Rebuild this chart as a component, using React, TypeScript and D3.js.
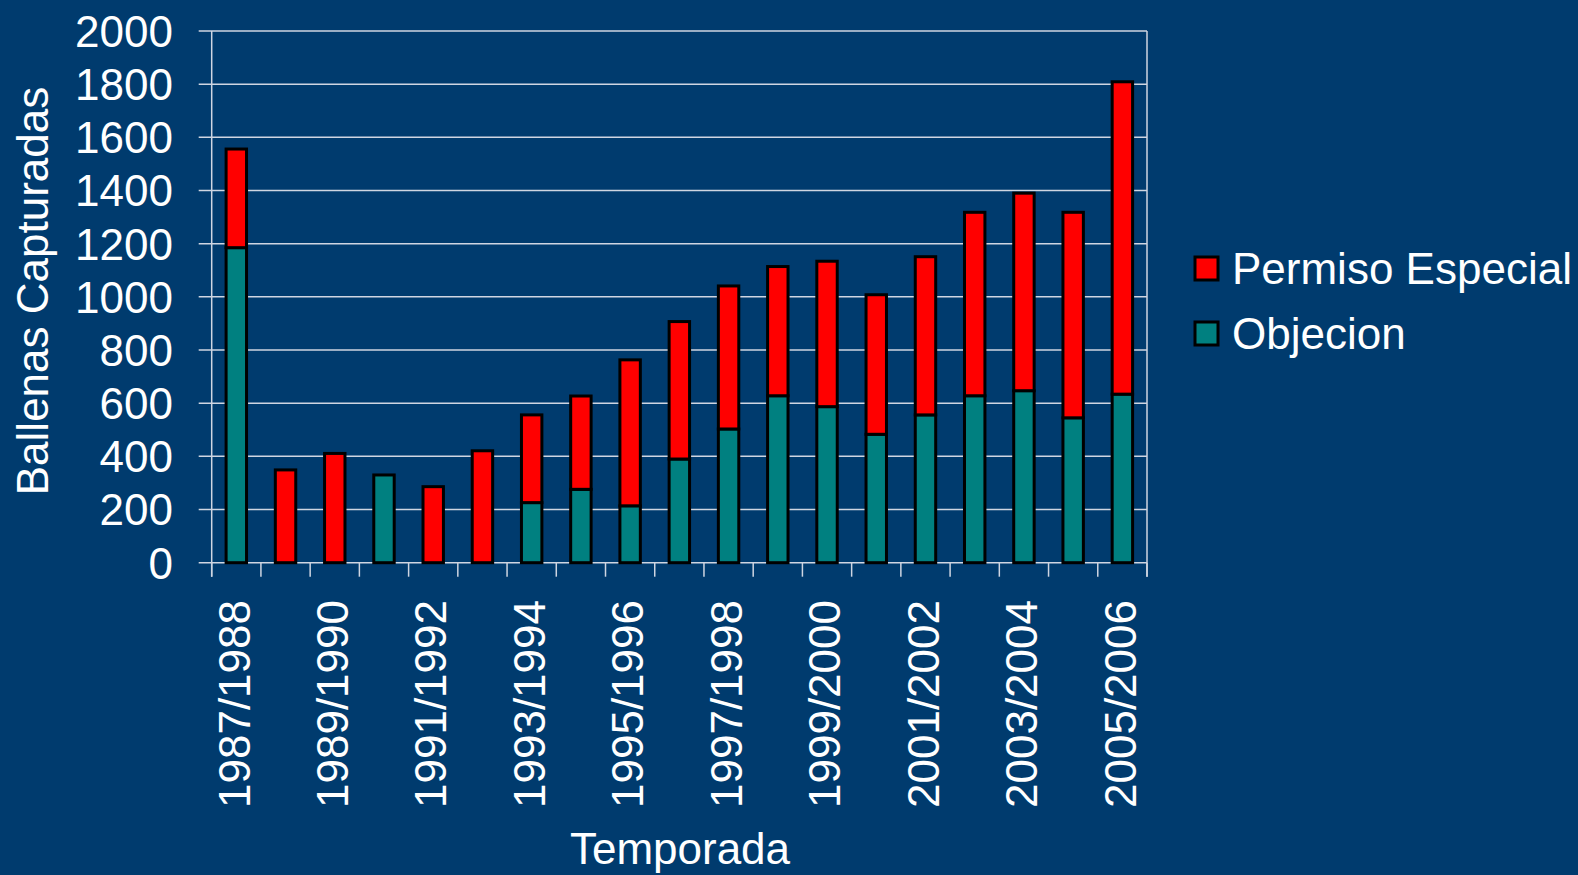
import React from "react";
import * as d3 from "d3";

const seasons = [
  "1987/1988", "1988/1989", "1989/1990", "1990/1991", "1991/1992", "1992/1993",
  "1993/1994", "1994/1995", "1995/1996", "1996/1997", "1997/1998", "1998/1999",
  "1999/2000", "2000/2001", "2001/2002", "2002/2003", "2003/2004", "2004/2005",
  "2005/2006",
];
const objecion = [1185, 0, 0, 330, 0, 0, 226, 276, 214, 390, 503, 628, 587, 483, 556, 628, 647, 545, 634];
const permisoEspecial = [371, 349, 411, 0, 286, 421, 330, 351, 549, 517, 538, 486, 547, 525, 595, 690, 743, 773, 1175];
const yTicks = [0, 200, 400, 600, 800, 1000, 1200, 1400, 1600, 1800, 2000];
const legendItems = [
  { label: "Permiso Especial", color: "#ff0000" },
  { label: "Objecion", color: "#008080" },
];

const W = 1578;
const H = 875;
const left = 211.7;
const right = 1147;
const top = 31;
const bottom = 562.7;
const BG = "#003b6e";
const GRID = "#cfd6e2";
const FONT = "'Liberation Sans', Arial, Helvetica, sans-serif";
const FS = 44;

export default function App() {
  const x = d3.scaleBand<string>().domain(seasons).range([left, right]).paddingInner(0.585).paddingOuter(0.2925);
  const xb = d3.scaleBand<string>().domain(seasons).range([left, right]);
  const y = d3.scaleLinear().domain([0, 2000]).range([bottom, top]);

  const stackData = seasons.map((s, i) => ({ season: s, objecion: objecion[i], permiso: permisoEspecial[i] }));
  const stack = d3.stack<any>().keys(["objecion", "permiso"])(stackData);
  const colors: Record<string, string> = { objecion: "#008080", permiso: "#ff0000" };

  const boundaries = seasons.map((s) => xb(s) as number).concat([right]);

  return (
    <svg width={W} height={H} style={{ position: "absolute", left: 0, top: 0, display: "block" }} fontFamily={FONT}>
      <rect x={0} y={0} width={W} height={H} fill={BG} />
      {yTicks.map((t) => (
        <line key={"g" + t} x1={left - 13} x2={right} y1={y(t)} y2={y(t)} stroke={GRID} strokeWidth={1.5} />
      ))}
      <line x1={left} x2={left} y1={top} y2={bottom + 14} stroke={GRID} strokeWidth={1.5} />
      <line x1={right} x2={right} y1={top} y2={bottom + 14} stroke={GRID} strokeWidth={1.5} />
      {boundaries.map((b, i) => (
        <line key={"xt" + i} x1={b} x2={b} y1={bottom} y2={bottom + 14} stroke={GRID} strokeWidth={1.5} />
      ))}
      {stack.map((layer) =>
        layer.map((d, i) => {
          const v = d[1] - d[0];
          if (v <= 0) return null;
          return (
            <rect
              key={layer.key + i}
              x={x(seasons[i]) as number}
              width={x.bandwidth()}
              y={y(d[1])}
              height={y(d[0]) - y(d[1])}
              fill={colors[layer.key]}
              stroke="#000"
              strokeWidth={3}
            />
          );
        })
      )}
      {yTicks.map((t) => (
        <text key={"yl" + t} x={173} y={y(t)} dy="0.36em" textAnchor="end" fill="#fff" fontSize={FS}>
          {t}
        </text>
      ))}
      {seasons.map((s, i) =>
        i % 2 === 0 ? (
          <text
            key={"xl" + s}
            transform={`translate(${(xb(s) as number) + xb.bandwidth() / 2},${600}) rotate(-90)`}
            textAnchor="end"
            dy="0.3em"
            fill="#fff"
            fontSize={FS}
          >
            {s}
          </text>
        ) : null
      )}
      <text transform={`translate(32,291) rotate(-90)`} textAnchor="middle" dy="0.36em" fill="#fff" fontSize={FS}>
        Ballenas Capturadas
      </text>
      <text x={680} y={864} textAnchor="middle" fill="#fff" fontSize={FS}>
        Temporada
      </text>
      {legendItems.map((it, i) => (
        <g key={it.label} transform={`translate(1195,${257 + i * 65})`}>
          <rect x={0} y={0} width={23} height={23} fill={it.color} stroke="#000" strokeWidth={3} />
          <text x={37} y={11.5} dy="0.36em" fill="#fff" fontSize={FS}>
            {it.label}
          </text>
        </g>
      ))}
    </svg>
  );
}
